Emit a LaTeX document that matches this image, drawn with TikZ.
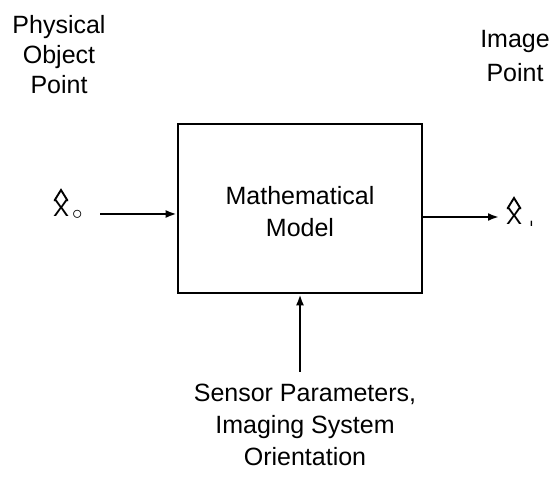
\documentclass[tikz,border=0pt]{standalone}
\usepackage{fontspec}
\setmainfont{Liberation Sans}
\usetikzlibrary{arrows.meta}
\begin{document}
\begin{tikzpicture}[x=1pt,y=-1pt,
  lbl/.style={font=\fontsize{25}{32}\selectfont, align=center, inner sep=0pt},
  vec/.style={font=\fontsize{24}{30}\selectfont, inner sep=0pt, anchor=base west},
  hatd/.style={line width=1.9pt, line join=miter, line cap=round},
  arr/.style={line width=2.2pt, -{Latex[length=11pt,width=8pt]}},
  modelbox/.style={draw, line width=2.6pt, minimum width=244pt, minimum height=169pt, inner sep=0pt}]
\useasboundingbox (0,0) rectangle (558,489);
\node[modelbox] (model) at (300,208.5) {};
\node[lbl] (mtext) at (300,212) {Mathematical\\Model};
\node[lbl, font=\fontsize{25}{30}\selectfont] (phys) at (59,55) {Physical\\Object\\Point};
\node[lbl, font=\fontsize{25}{34}\selectfont] (img) at (515,56) {Image\\Point};
\node[lbl] (sens) at (305,425) {Sensor Parameters,\\Imaging System\\Orientation};
% X-hat (object and image points)
\node[vec] (xo) at (53,217) {X\hspace{3pt}\raisebox{-3pt}{\fontsize{20}{20}\selectfont $\circ$}};
\node[vec] (xi) at (506,225) {X\hspace{8pt}\raisebox{-2pt}{\fontsize{10}{10}\selectfont\bfseries ı}};
\draw[hatd] (54.5,200.5) -- (61,190) -- (67.5,200.5);
\draw[hatd] (507.5,208.5) -- (514,198) -- (520.5,208.5);
\coordinate (ain) at (100,214);
\coordinate (bin) at (300,372);
\draw[arr] (ain) -- (ain -| model.west);
\draw[arr] (model.east |- 0,217) -- (499,217);
\draw[arr] (bin) -- (model.south);
\end{tikzpicture}
\end{document}
